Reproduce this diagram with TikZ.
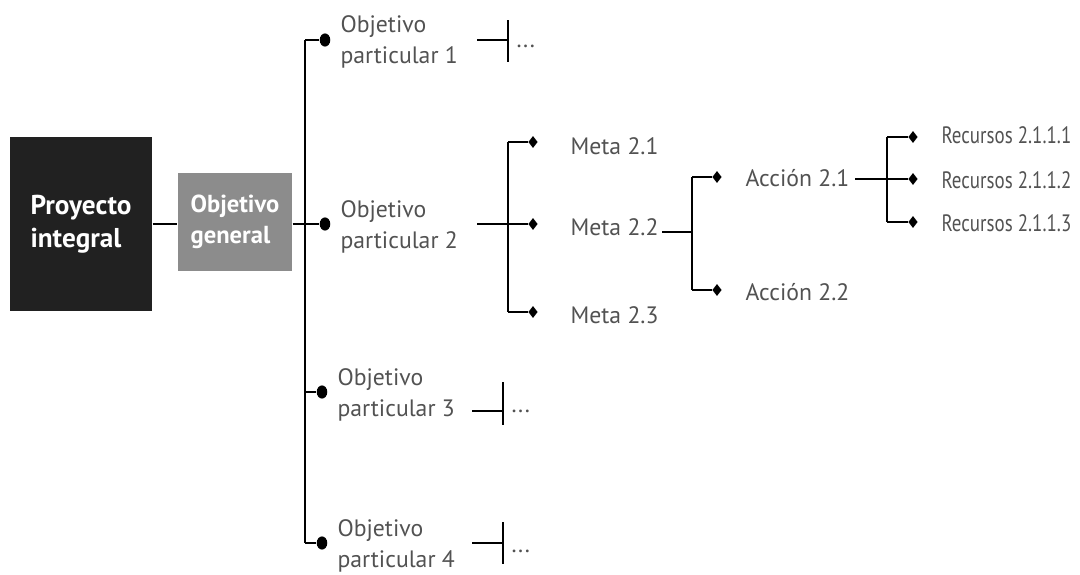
\documentclass[tikz,border=0pt]{standalone}
\usepackage{fontspec}
\setmainfont{PT Sans}
\newfontfamily\narrowfont[FakeStretch=0.8]{PT Sans}
\usetikzlibrary{shapes.geometric}

\begin{document}
\begin{tikzpicture}[x=0.02cm,y=-0.02cm,line width=0.65pt,
    txt/.style={anchor=west,align=left,inner sep=0pt,text=black!68,
                font=\fontsize{13.5}{17.5}\selectfont},
    rec/.style={txt,font=\narrowfont\fontsize{13.5}{17.5}\selectfont},
    dot/.style={ellipse,fill=black,inner sep=0pt,minimum width=6pt,minimum height=7.5pt},
    dia/.style={diamond,fill=black,inner sep=0pt,minimum width=5.5pt,minimum height=7pt},
    box/.style={rectangle,inner sep=0pt,align=left,text=white,
                font=\fontsize{15.5}{18.5}\selectfont\bfseries}]
    \useasboundingbox (0,0) rectangle (1080,575);
    % main boxes
    \node[box,fill=black!87,minimum width=2.84cm,minimum height=3.48cm] (pi) at (81,224) {Proyecto\\integral};
    \node[box,fill=black!45,minimum width=2.28cm,minimum height=1.96cm,
          font=\fontsize{14}{17.5}\selectfont\bfseries] (og) at (235,222) {Objetivo\\general};
    % objetivos particulares
    \node[dot] (d1) at (325,40) {};
    \node[dot] (d2) at (325,224) {};
    \node[dot] (d3) at (322,392) {};
    \node[dot] (d4) at (322,543) {};
    \node[txt] (op1) at (340,42) {Objetivo\\particular 1};
    \node[txt] (op2) at (340,227) {Objetivo\\particular 2};
    \node[txt] (op3) at (337,395) {Objetivo\\particular 3};
    \node[txt] (op4) at (337,546) {Objetivo\\particular 4};
    \coordinate (t1) at (305,40);
    \coordinate (t4) at (305,543);
    \coordinate (t3) at (305,392);
    \draw (pi) -- (pi -| og.west);
    \draw (og.east |- d2) -- (d2);
    \draw (t1) -- (t4);
    \draw (t1) -- (d1);
    \draw (t3) -- (d3);
    \draw (t4) -- (d4);
    % ramas sin desarrollar
    \coordinate (a1) at (477,40);  \coordinate (b1) at (508,40);
    \coordinate (a3) at (472,411); \coordinate (b3) at (503,411);
    \coordinate (a4) at (472,543); \coordinate (b4) at (503,543);
    \draw (a1) -- (b1) (b1) ++(0,-20) -- ++(0,42);
    \draw (a3) -- (b3) (b3) ++(0,-29) -- ++(0,43);
    \draw (a4) -- (b4) (b4) ++(0,-21) -- ++(0,42);
    \node[txt] (e1) at (516,46) {...};
    \node[txt] (e3) at (511,411) {...};
    \node[txt] (e4) at (511,551) {...};
    % metas
    \node[dia] (m1) at (533,142) {};
    \node[dia] (m2) at (533,224) {};
    \node[dia] (m3) at (533,312) {};
    \node[txt] (mt1) at (570,146) {Meta 2.1};
    \node[txt] (mt2) at (570,227) {Meta 2.2};
    \node[txt] (mt3) at (570,315) {Meta 2.3};
    \coordinate (c0) at (477,224);
    \coordinate (c1) at (508,142);
    \coordinate (c3) at (508,312);
    \draw (c0) -- (m2);
    \draw (c1) -- (c3);
    \draw (c1) -- (m1);
    \draw (c3) -- (m3);
    % acciones
    \node[dia] (ac1) at (717,177) {};
    \node[dia] (ac2) at (717,290) {};
    \node[txt] (at1) at (745,178) {Acción 2.1};
    \node[txt] (at2) at (745,292) {Acción 2.2};
    \coordinate (g0) at (662,232);
    \coordinate (g1) at (692,177);
    \coordinate (g2) at (692,290);
    \draw (g0) -- (g0 -| g1);
    \draw (g1) -- (g2);
    \draw (g1) -- (ac1);
    \draw (g2) -- (ac2);
    % recursos
    \node[dia] (r1) at (913,137) {};
    \node[dia] (r2) at (913,179) {};
    \node[dia] (r3) at (913,222) {};
    \node[rec] (rt1) at (941,135) {Recursos 2.1.1.1};
    \node[rec] (rt2) at (941,180) {Recursos 2.1.1.2};
    \node[rec] (rt3) at (941,223) {Recursos 2.1.1.3};
    \coordinate (h0) at (855,179);
    \coordinate (h1) at (887,137);
    \coordinate (h3) at (887,222);
    \draw (h0) -- (r2);
    \draw (h1) -- (h3);
    \draw (h1) -- (r1);
    \draw (h3) -- (r3);
\end{tikzpicture}
\end{document}
